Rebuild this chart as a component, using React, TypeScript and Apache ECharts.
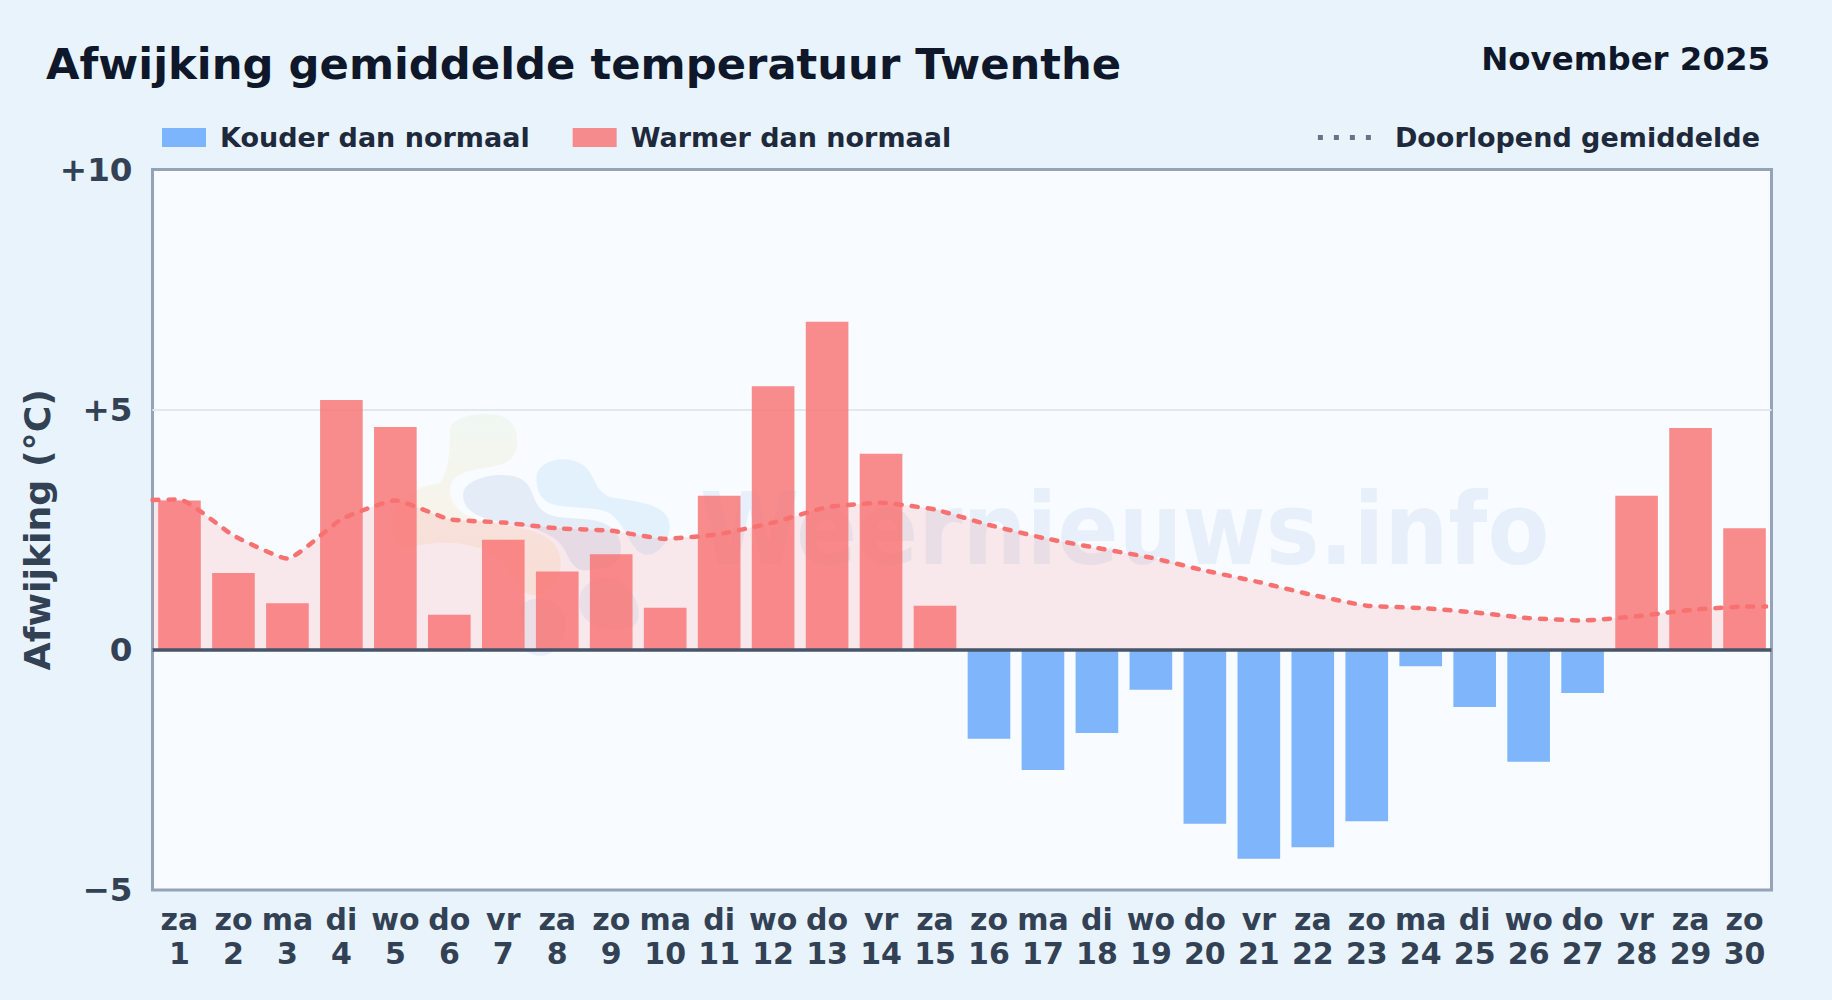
import React, { useEffect, useRef } from "react";
import * as echarts from "echarts";

const weekdays = ["za","zo","ma","di","wo","do","vr","za","zo","ma","di","wo","do","vr","za","zo","ma","di","wo","do","vr","za","zo","ma","di","wo","do","vr","za","zo"];
const days = [1,2,3,4,5,6,7,8,9,10,11,12,13,14,15,16,17,18,19,20,21,22,23,24,25,26,27,28,29,30];
const anomalies = [3.11,1.6,0.97,5.2,4.64,0.73,2.29,1.63,1.99,0.875,3.21,5.49,6.83,4.08,0.92,-1.85,-2.5,-1.73,-0.83,-3.62,-4.35,-4.11,-3.57,-0.34,-1.19,-2.33,-0.9,3.21,4.62,2.53];
const runningX = [-0.5,0,1,2,3,4,5,6,7,8,9,10,11,12,13,14,15,16,17,18,19,20,21,22,23,24,25,26,27,28,29,29.4];
const runningMean = [3.12,3.13,2.38,1.9,2.72,3.11,2.72,2.65,2.53,2.48,2.31,2.41,2.65,2.97,3.06,2.92,2.6,2.33,2.12,1.92,1.65,1.41,1.14,0.92,0.87,0.78,0.66,0.61,0.7,0.83,0.9,0.9];
const yTicks: Record<string, string> = { "-5": "\u22125", "0": "0", "5": "+5", "10": "+10" };

const COLD = "Kouder dan normaal";
const WARM = "Warmer dan normaal";
const MEAN = "Doorlopend gemiddelde";

const blobSwoosh = "M300 120C300 80 400 60 460 80C510 100 515 180 480 210C440 240 340 230 310 270C290 300 300 340 340 370C400 410 540 400 600 450C650 490 640 570 590 600C560 625 530 620 510 590C480 540 440 480 370 470C310 450 230 460 190 470C140 480 120 440 130 380C140 320 200 290 270 280C300 240 300 170 300 120Z";
const blobDark = "M340 310C345 265 450 240 510 265C560 290 540 350 600 375C660 395 760 370 800 430C830 480 810 530 760 535C710 540 680 560 650 490C630 440 560 410 480 400C400 390 335 370 340 310Z";
const blobLight = "M560 265C560 210 650 190 700 225C745 260 730 315 800 325C870 335 960 345 960 410C960 470 900 520 860 480C830 440 820 400 780 370C730 345 650 360 600 340C570 325 560 300 560 265Z";
const blobLow = "M520 640C560 615 620 625 640 670C660 730 630 790 580 798C540 800 515 780 520 760C530 720 500 670 520 640ZM690 620C700 570 780 535 830 590C870 630 880 690 850 710C800 730 740 720 710 690C690 670 685 645 690 620Z";

export default function App() {
  const ref = useRef<HTMLDivElement>(null);
  useEffect(() => {
    const g: any = echarts.graphic;
    g.registerShape("wmSwoosh", g.extendPath(blobSwoosh, {}));
    g.registerShape("wmDark", g.extendPath(blobDark, {}));
    g.registerShape("wmLight", g.extendPath(blobLight, {}));
    g.registerShape("wmLow", g.extendPath(blobLow, {}));
    const chart = echarts.init(ref.current!, undefined, { renderer: "svg" });
    const font = "'DejaVu Sans', sans-serif";
    const blob = (type: string, fill: any) => ({ type, x: 350, y: 390, scaleX: 1 / 3, scaleY: 1 / 3, silent: true, z: 1, style: { fill } });
    chart.setOption({
      animation: false,
      backgroundColor: "#e8f3fc",
      textStyle: { fontFamily: font },
      title: [
        { text: "Afwijking gemiddelde temperatuur Twenthe", left: 46, top: 42, textStyle: { fontFamily: font, fontSize: 43.3, fontWeight: "bold", color: "#0f172a" }, padding: 0 },
        { text: "November 2025", right: 62, top: 43, textStyle: { fontFamily: font, fontSize: 32.4, fontWeight: "bold", color: "#0f172a" }, padding: 0 },
      ],
      legend: [
        { data: [{ name: COLD, icon: "rect" }, { name: WARM, icon: "rect" }], left: 162, top: 124, padding: 0, itemWidth: 44, itemHeight: 19, itemGap: 43, textStyle: { fontFamily: font, fontSize: 27, fontWeight: "bold", color: "#1e293b", padding: [0, 0, 0, 9] }, selectedMode: false },
        { data: [MEAN], right: 72, top: 124, padding: 0, itemWidth: 56, itemHeight: 19, textStyle: { fontFamily: font, fontSize: 27, fontWeight: "bold", color: "#1e293b", padding: [0, 0, 0, 16] }, selectedMode: false, itemStyle: { opacity: 0 }, lineStyle: { color: "#64748b", type: [5, 11], width: 5, cap: "butt", opacity: 1 } },
      ],
      grid: { left: 152.5, top: 169.5, width: 1619, height: 720.5, show: true, backgroundColor: "#f8fbff", borderColor: "#94a3b8", borderWidth: 3 },
      xAxis: [
        {
          type: "category",
          data: weekdays.map((d, i) => `${d}\n${days[i]}`),
          axisTick: { show: false },
          axisLine: { show: false },
          axisLabel: { interval: 0, margin: 12, fontFamily: font, fontSize: 30, lineHeight: 34, fontWeight: "bold", color: "#334155" },
        },
        { type: "value", min: -0.5, max: 29.5, show: false },
      ],
      yAxis: {
        type: "value",
        min: -5,
        max: 10,
        interval: 5,
        name: "Afwijking (\u00b0C)",
        nameLocation: "middle",
        nameGap: 97.5,
        nameMoveOverlap: false,
        nameRotate: 90,
        nameTextStyle: { fontFamily: font, fontSize: 36.3, fontWeight: "bold", color: "#334155" },
        axisLine: { show: false },
        axisTick: { show: false },
        axisLabel: { margin: 20, fontFamily: font, fontSize: 32.6, fontWeight: "bold", color: "#334155", formatter: (v: number) => yTicks[String(v)] ?? String(v) },
        splitLine: { show: true, showMinLine: false, showMaxLine: false, lineStyle: { color: "#e2e8f0", width: 2 } },
      },
      graphic: {
        elements: [
          blob("wmSwoosh", new echarts.graphic.LinearGradient(0, 0, 0, 1, [
            { offset: 0, color: "rgba(190,225,160,0.14)" },
            { offset: 0.5, color: "rgba(245,210,130,0.16)" },
            { offset: 1, color: "rgba(245,190,110,0.16)" },
          ])),
          blob("wmDark", "rgba(59,110,190,0.1)"),
          blob("wmLight", "rgba(80,170,240,0.12)"),
          blob("wmLow", "rgba(59,110,190,0.08)"),
          { type: "text", x: 700, y: 479, scaleX: 0.9, silent: true, z: 1, style: { text: "Weernieuws.info", fontFamily: font, fontWeight: "bold", fontSize: 100, fill: "rgba(59,130,200,0.085)", textVerticalAlign: "top" } },
        ],
      },
      series: [
        {
          name: "area",
          type: "line",
          xAxisIndex: 1,
          z: 1,
          smooth: 0.15,
          showSymbol: false,
          symbol: "none",
          silent: true,
          data: runningX.map((x, i) => [x, runningMean[i]]),
          lineStyle: { width: 0 },
          areaStyle: { color: "#f87171", opacity: 0.14, origin: 0 },
        },
        {
          name: COLD,
          type: "bar",
          z: 2,
          barWidth: "79%",
          barGap: "-100%",
          itemStyle: { color: "#60a5fa", opacity: 0.8 },
          data: anomalies.map((v) => (v < 0 ? v : null)),
        },
        {
          name: WARM,
          type: "bar",
          z: 2,
          barWidth: "79%",
          barGap: "-100%",
          itemStyle: { color: "#f87171", opacity: 0.8 },
          data: anomalies.map((v) => (v >= 0 ? v : null)),
          markLine: { silent: true, symbol: "none", z: 4, label: { show: false }, lineStyle: { color: "#475569", width: 3.5, type: "solid" }, data: [{ yAxis: 0 }] },
        },
        {
          name: MEAN,
          type: "line",
          xAxisIndex: 1,
          z: 3,
          smooth: 0.15,
          showSymbol: false,
          symbol: "none",
          silent: true,
          data: runningX.map((x, i) => [x, runningMean[i]]),
          itemStyle: { color: "#64748b" },
          lineStyle: { color: "#f87171", width: 4.5, type: [6, 10], cap: "round" },
        },
      ],
    });
    return () => chart.dispose();
  }, []);
  return <div ref={ref} style={{ position: "absolute", left: 0, top: 0, width: 1832, height: 1000 }} />;
}
